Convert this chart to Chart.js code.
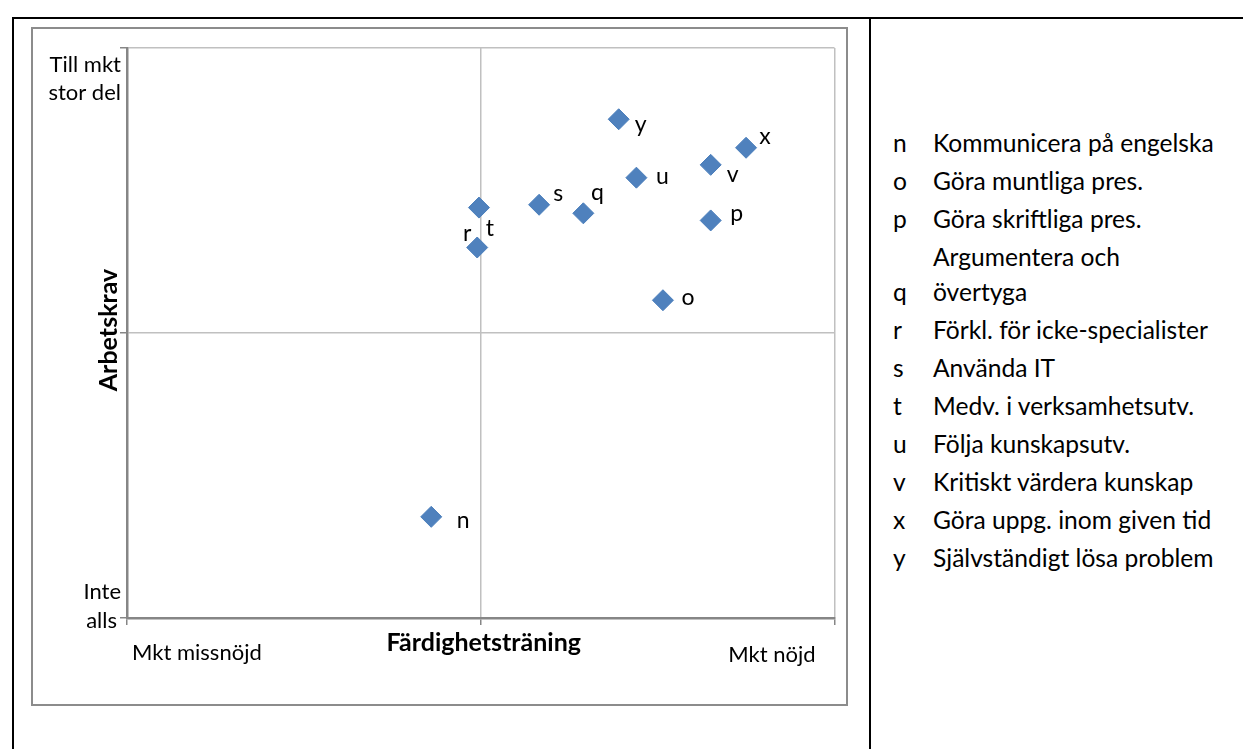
<!DOCTYPE html>
<html>
<head>
<meta charset="utf-8">
<script src="https://cdn.jsdelivr.net/npm/chart.js@4"></script>
<style>
  body { margin: 0; background: #fff; width: 1243px; height: 749px; overflow: hidden; position: relative; font-family: Lato, sans-serif; }
  .rule { position: absolute; background: #000; }
  #box { position: absolute; left: 31px; top: 27px; width: 813px; height: 675px; border: 2px solid #8c8c8c; }
  #legend { position: absolute; left: 893px; top: 125px; font-size: 24.6px; color: #000; }
  .row { display: flex; align-items: flex-end; line-height: 35px; margin-bottom: 3px; }
  .row .key { width: 40px; }
</style>
</head>
<body>
<div class="rule" style="left:12px; top:17px; width:1231px; height:2px;"></div>
<div class="rule" style="left:12px; top:17px; width:2px; height:732px;"></div>
<div class="rule" style="left:869px; top:17px; width:2px; height:732px;"></div>
<div id="box"><canvas id="chart" width="813" height="675"></canvas></div>
<div id="legend"></div>
<script>
// bokstav, färdighetsträning (x), arbetskrav (y)
const letters = ['n', 'o', 'p', 'q', 'r', 's', 't', 'u', 'v', 'x', 'y'];
const fardighet = [2.72, 4.03, 4.30, 3.58, 2.98, 3.33, 2.99, 3.88, 4.30, 4.50, 3.78];
const arbetskrav = [1.71, 3.23, 3.79, 3.84, 3.60, 3.90, 3.88, 4.09, 4.18, 4.30, 4.50];
const descriptions = [
  ['Kommunicera på engelska'],
  ['Göra muntliga pres.'],
  ['Göra skriftliga pres.'],
  ['Argumentera och', 'övertyga'],
  ['Förkl. för icke-specialister'],
  ['Använda IT'],
  ['Medv. i verksamhetsutv.'],
  ['Följa kunskapsutv.'],
  ['Kritiskt värdera kunskap'],
  ['Göra uppg. inom given tid'],
  ['Självständigt lösa problem']
];
const xTickLabels = ['Mkt missnöjd', 'Mkt nöjd'];
const yTickLabels = [['Till mkt', 'stor del'], ['Inte', 'alls']];
const xTitle = 'Färdighetsträning';
const yTitle = 'Arbetskrav';

// var etiketten står i förhållande till punkten (px)
const labelOffset = {
  n: [32, 4], o: [25, -3], p: [26, -7], q: [14, -21], r: [-10, -14], s: [19, -11],
  t: [11, 21], u: [26, -1], v: [22, 10], x: [19, -11], y: [22, 5]
};

// legenden till höger
const legendEl = document.getElementById('legend');
letters.forEach((l, i) => {
  const row = document.createElement('div');
  row.className = 'row';
  row.innerHTML = '<div class="key">' + l + '</div><div>' + descriptions[i].join('<br>') + '</div>';
  legendEl.appendChild(row);
});

const textPlugin = {
  id: 'texts',
  afterDraw(chart) {
    const ctx = chart.ctx;
    const xs = chart.scales.x, ys = chart.scales.y;
    const area = chart.chartArea;
    ctx.save();
    ctx.fillStyle = '#000';
    ctx.textBaseline = 'middle';

    // punktetiketter
    ctx.font = '23px Lato';
    ctx.textAlign = 'center';
    letters.forEach((l, i) => {
      const px = xs.getPixelForValue(fardighet[i]);
      const py = ys.getPixelForValue(arbetskrav[i]);
      ctx.fillText(l, px + labelOffset[l][0], py + labelOffset[l][1]);
    });

    // y-axelns ändpunkter
    ctx.font = '22px Lato';
    ctx.textAlign = 'right';
    ctx.fillText(yTickLabels[0][0], area.left - 6, area.top + 17);
    ctx.fillText(yTickLabels[0][1], area.left - 6, area.top + 45);
    ctx.fillText(yTickLabels[1][0], area.left - 6, area.bottom - 26);
    ctx.fillText(yTickLabels[1][1], area.left - 10, area.bottom + 3);

    // x-axelns ändpunkter
    ctx.textAlign = 'left';
    ctx.fillText(xTickLabels[0], area.left + 5, area.bottom + 35);
    ctx.textAlign = 'right';
    ctx.fillText(xTickLabels[1], area.right - 19, area.bottom + 37);

    // axeltitlar
    ctx.font = 'bold 25px Lato';
    ctx.textAlign = 'center';
    ctx.fillText(xTitle, xs.getPixelForValue(3) + 3, area.bottom + 25);
    ctx.translate(area.left - 18, ys.getPixelForValue(3) - 3);
    ctx.rotate(-Math.PI / 2);
    ctx.fillText(yTitle, 0, 0);
    ctx.restore();
  }
};

const axisCommon = {
  type: 'linear',
  min: 1,
  max: 5,
  afterBuildTicks: axis => { axis.ticks = [1, 3, 5].map(v => ({ value: v })); },
  ticks: { display: false },
  grid: { color: '#c0c0c0', lineWidth: 1.5, tickLength: 7, tickColor: '#868686', tickWidth: 1.5 },
  border: { color: '#868686', width: 2.5 }
};

new Chart(document.getElementById('chart'), {
  type: 'scatter',
  data: {
    datasets: [{
      data: fardighet.map((v, i) => ({ x: v, y: arbetskrav[i] })),
      pointStyle: 'rectRot',
      pointRadius: 10.5,
      backgroundColor: '#4f81bd',
      borderColor: '#4a7ebb',
      borderWidth: 1
    }]
  },
  options: {
    responsive: false,
    animation: false,
    layout: { padding: { left: 87, right: 7, top: 19, bottom: 79 } },
    plugins: { legend: { display: false }, tooltip: { enabled: false } },
    scales: {
      x: Object.assign({}, axisCommon, { afterFit: s => { s.height = 7; } }),
      y: Object.assign({}, axisCommon, { afterFit: s => { s.width = 7; } })
    }
  },
  plugins: [textPlugin]
});
</script>
</body>
</html>
